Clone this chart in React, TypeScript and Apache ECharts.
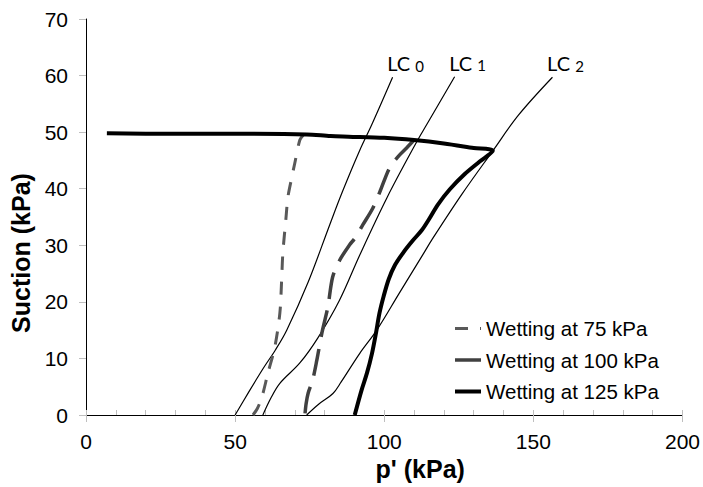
import React, { useEffect, useRef } from "react";
import * as echarts from "echarts";

// Loading-collapse (LC) yield curves: p' (kPa) vs suction (kPa)
const lc0P = [50, 54.5, 59.5, 63.5, 67.3, 74.5, 81.7, 86, 91.8, 95.8, 102.8];
const lc0S = [0, 4, 8.3, 11.5, 15, 23.5, 33.6, 39.5, 46.8, 51.3, 59.7];
const lc1P = [59.3, 62, 65, 71.7, 77.7, 85, 91.8, 101, 110.9, 114.2, 123.6];
const lc1S = [0, 3, 5.6, 9.2, 13.6, 20.3, 28.3, 38.5, 48.3, 51.3, 59.8];
const lc2P = [74, 78, 82.8, 85.5, 91.8, 97.5, 105, 112.9, 116, 126, 136.4, 145, 156.4];
const lc2S = [0, 1.9, 3.8, 5.8, 10.9, 15, 21.5, 28.3, 31, 39, 46.7, 53, 59.7];
const lcSubscripts = ["0", "1", "2"];

// Wetting paths
const wet75P = [73, 71.7, 70, 68.8, 67.7, 67, 66, 65.6, 65, 63.3, 61, 59, 57.5, 56];
const wet75S = [49.6, 48.6, 44.5, 41.5, 38.5, 34.5, 28.6, 23.9, 18, 12, 7.4, 3.2, 1.2, 0];

const wet100P = [110, 107.5, 104.5, 101.8, 98.5, 96.2, 92.8, 90.1, 88.4, 85.1, 82.7, 81.1, 79.1, 77.4, 76, 74.5, 73.8, 73.4];
const wet100S = [48.6, 47.2, 45.6, 43.7, 39.4, 36.6, 33.6, 31.2, 30.1, 27.4, 24.4, 19.1, 14.5, 9.7, 6.2, 3.9, 2, 0];

const wet125P = [7, 30, 50, 74, 82, 88, 100, 110, 120, 130, 136.4, 132, 127, 122, 118, 115, 112.5, 109.5, 106.5, 103.6, 101.5, 99.8, 98.4, 97.2, 95.9, 94.2, 92.4, 90.1];
const wet125S = [49.8, 49.7, 49.7, 49.6, 49.3, 49.2, 49, 48.6, 48, 47.2, 46.7, 44.8, 42.6, 39.9, 37.2, 34.6, 32.6, 30.8, 28.8, 26.5, 24, 21, 18, 14.4, 10.9, 7.4, 4.4, 0];

const seriesNames = ["Wetting at 75 kPa", "Wetting at 100 kPa", "Wetting at 125 kPa"];

const FONT = "Liberation Sans, Arial, sans-serif";

function pairs(xs: number[], ys: number[]) {
  return xs.map((x, i) => [x, ys[i]]);
}

function lcSeries(name: string, xs: number[], ys: number[], sub: string) {
  const data: any[] = pairs(xs, ys);
  const last = data.length - 1;
  data[last] = {
    value: data[last],
    label: {
      show: true,
      position: "top",
      distance: 4,
      offset: [13, 0],
      formatter: "{a|LC }{b|" + sub + "}",
      rich: {
        a: { fontFamily: "Lato, Carlito, sans-serif", fontSize: 20, lineHeight: 20, color: "#000", verticalAlign: "top" },
        b: { fontFamily: "Lato, Carlito, sans-serif", fontSize: 15, lineHeight: 15, color: "#000", padding: [9, 0, 0, 0], verticalAlign: "bottom" },
      },
    },
  };
  return {
    name,
    type: "line",
    data,
    showSymbol: true,
    symbol: "circle",
    symbolSize: 0,
    smooth: 0.35,
    itemStyle: { color: "#000" },
    lineStyle: { color: "#000", width: 1.2 },
    label: { show: false },
    silent: true,
    z: 2,
  };
}

export default function App() {
  const ref = useRef<HTMLDivElement>(null);
  useEffect(() => {
    document.body.style.margin = "0";
    if (!ref.current) return;
    const chart = echarts.init(ref.current, null, { renderer: "svg" });
    const tickColor = "#bfbfbf";
    const option: any = {
      animation: false,
      backgroundColor: "#fff",
      grid: { left: 86, right: 20, top: 19, bottom: 72 },
      xAxis: [
        {
          type: "value",
          position: "bottom",
          min: 0,
          max: 200,
          interval: 50,
          name: "p' (kPa)",
          nameLocation: "middle",
          nameGap: 41,
          nameTextStyle: { fontFamily: FONT, fontSize: 25, fontWeight: "bold", color: "#000", padding: [0, 0, 0, 72] },
          axisLine: { show: true, onZero: false, lineStyle: { color: "#000", width: 1 } },
          axisTick: { show: true, length: 7, lineStyle: { color: tickColor } },
          axisLabel: { fontFamily: FONT, fontSize: 21, color: "#000", margin: 16 },
          splitLine: { show: false },
        },
        {
          type: "value",
          position: "top",
          offset: -396,
          min: 0,
          max: 200,
          interval: 50,
          axisLine: { show: false, onZero: false },
          axisTick: { show: true, length: 5, lineStyle: { color: tickColor } },
          minorTick: { show: true, splitNumber: 5, length: 5, lineStyle: { color: tickColor } },
          axisLabel: { show: false },
          splitLine: { show: false },
        },
      ],
      yAxis: {
        type: "value",
        min: 0,
        max: 70,
        interval: 10,
        name: "Suction (kPa)",
        nameLocation: "middle",
        nameGap: 50,
        nameTextStyle: { fontFamily: FONT, fontSize: 25, fontWeight: "bold", color: "#000", padding: [0, 72, 0, 0] },
        axisLine: { show: true, onZero: false, lineStyle: { color: "#000", width: 1 } },
        axisTick: { show: true, length: 7, lineStyle: { color: tickColor } },
        axisLabel: { fontFamily: FONT, fontSize: 21, color: "#000", margin: 18 },
        splitLine: { show: false },
      },
      legend: {
        orient: "vertical",
        left: 453,
        top: 318,
        padding: 0,
        itemGap: 10.5,
        itemWidth: 26,
        itemHeight: 14,
        itemStyle: { opacity: 0 },
        textStyle: { fontFamily: FONT, fontSize: 20.5, color: "#000" },
        data: [
          { name: seriesNames[0], lineStyle: { color: "#595959", width: 3, type: [13, 12] } },
          { name: seriesNames[1], lineStyle: { color: "#404040", width: 3.5, type: "solid" } },
          { name: seriesNames[2], lineStyle: { color: "#000", width: 4, type: "solid" } },
        ],
      },
      series: [
        lcSeries("LC0", lc0P, lc0S, lcSubscripts[0]),
        lcSeries("LC1", lc1P, lc1S, lcSubscripts[1]),
        lcSeries("LC2", lc2P, lc2S, lcSubscripts[2]),
        {
          name: seriesNames[0],
          type: "line",
          data: pairs(wet75P, wet75S),
          symbol: "none",
          smooth: 0.3,
          itemStyle: { color: "#595959" },
          lineStyle: { color: "#595959", width: 3, type: [13, 12] },
          z: 3,
        },
        {
          name: seriesNames[1],
          type: "line",
          data: pairs(wet100P, wet100S),
          symbol: "none",
          smooth: 0.3,
          itemStyle: { color: "#404040" },
          lineStyle: { color: "#404040", width: 3.5, type: [27, 12] },
          z: 3,
        },
        {
          name: seriesNames[2],
          type: "line",
          data: pairs(wet125P, wet125S),
          symbol: "none",
          smooth: 0.3,
          itemStyle: { color: "#000" },
          lineStyle: { color: "#000", width: 4 },
          z: 4,
        },
      ],
    };
    chart.setOption(option);
    return () => chart.dispose();
  }, []);
  return <div ref={ref} style={{ position: "fixed", left: 0, top: 0, width: 703, height: 487 }} />;
}
